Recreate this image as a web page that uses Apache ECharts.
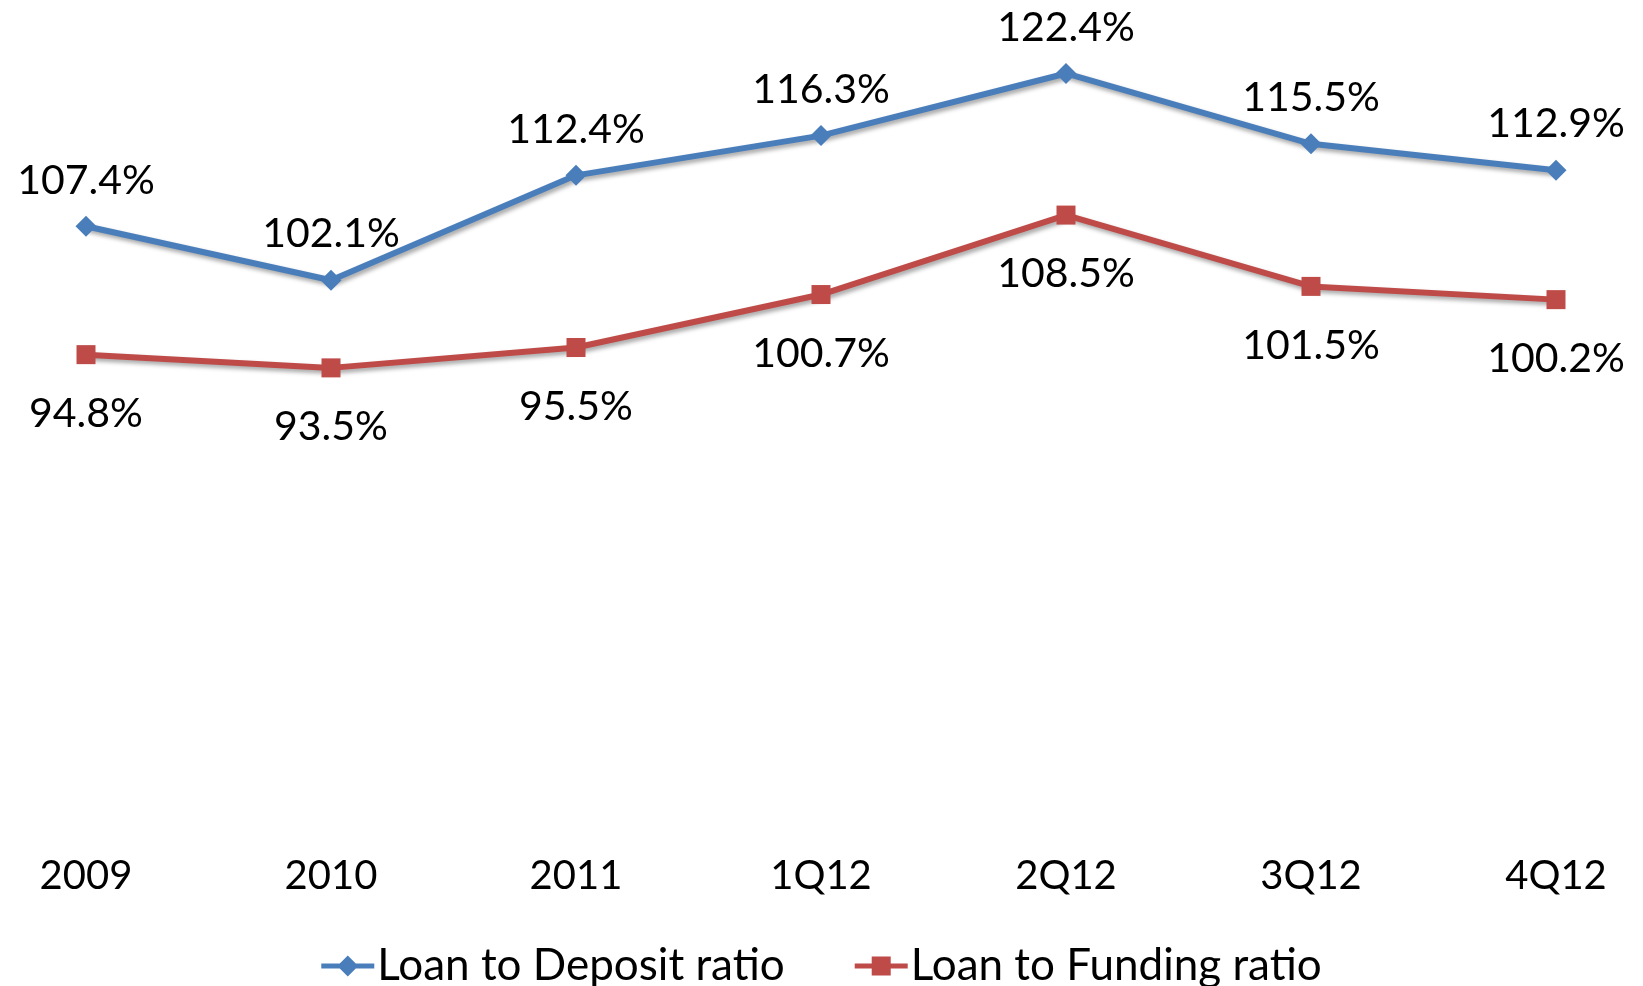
<!DOCTYPE html>
<html>
<head>
<meta charset="utf-8">
<script src="https://cdn.jsdelivr.net/npm/echarts@6/dist/echarts.min.js"></script>
<style>
html,body{margin:0;padding:0;background:#fff;}
#chart{width:1643px;height:986px;}
</style>
</head>
<body>
<div id="chart"></div>
<script>
const categories = ['2009', '2010', '2011', '1Q12', '2Q12', '3Q12', '4Q12'];
const loanToDeposit = [107.4, 102.1, 112.4, 116.3, 122.4, 115.5, 112.9];
const loanToFunding = [94.8, 93.5, 95.5, 100.7, 108.5, 101.5, 100.2];
const seriesNames = ['Loan to Deposit ratio', 'Loan to Funding ratio'];

const FONT = 'Lato';
const chart = echarts.init(document.getElementById('chart'), null, {renderer: 'canvas'});
const shadow = {shadowColor: 'rgba(0,0,0,0.35)', shadowBlur: 4, shadowOffsetX: 2, shadowOffsetY: 3};

const diamondIcon = 'path://M0,8.5L53,8.5L53,13.5L0,13.5Z M26.5,0.5L37,11L26.5,21.5L16,11Z';
const squareIcon = 'path://M0,8.5L53,8.5L53,13.5L0,13.5Z M17,1.5L36,1.5L36,20.5L17,20.5Z';

chart.setOption({
  animation: false,
  backgroundColor: '#ffffff',
  grid: {left: 86, right: 87, top: 47, bottom: 175, containLabel: false},
  xAxis: {
    type: 'category',
    data: categories,
    boundaryGap: false,
    axisLine: {show: false},
    axisTick: {show: false},
    splitLine: {show: false},
    axisLabel: {color: '#000', fontFamily: FONT, fontSize: 40, margin: 45}
  },
  yAxis: {
    type: 'value',
    min: 50,
    max: 125,
    show: false
  },
  legend: {
    left: 'center',
    top: 939,
    itemWidth: 53,
    itemHeight: 22,
    itemGap: 70,
    textStyle: {color: '#000', fontFamily: FONT, fontSize: 44, padding: [0, 0, 0, -2]},
    data: [
      {name: seriesNames[0], icon: diamondIcon},
      {name: seriesNames[1], icon: squareIcon}
    ]
  },
  series: [
    {
      name: seriesNames[0],
      type: 'line',
      data: loanToDeposit,
      symbol: 'diamond',
      symbolSize: 21,
      color: '#4A7EBB',
      lineStyle: Object.assign({width: 6, color: '#4A7EBB'}, shadow),
      itemStyle: {color: '#4A7EBB'},
      label: {
        show: true, position: 'top', distance: 15,
        formatter: p => p.value.toFixed(1) + '%',
        color: '#000', fontFamily: FONT, fontSize: 41
      }
    },
    {
      name: seriesNames[1],
      type: 'line',
      data: loanToFunding,
      symbol: 'rect',
      symbolSize: 19,
      color: '#BE4B48',
      lineStyle: Object.assign({width: 6, color: '#BE4B48'}, shadow),
      itemStyle: {color: '#BE4B48'},
      label: {
        show: true, position: 'bottom', distance: 29,
        formatter: p => p.value.toFixed(1) + '%',
        color: '#000', fontFamily: FONT, fontSize: 41
      }
    }
  ]
});
</script>
</body>
</html>
